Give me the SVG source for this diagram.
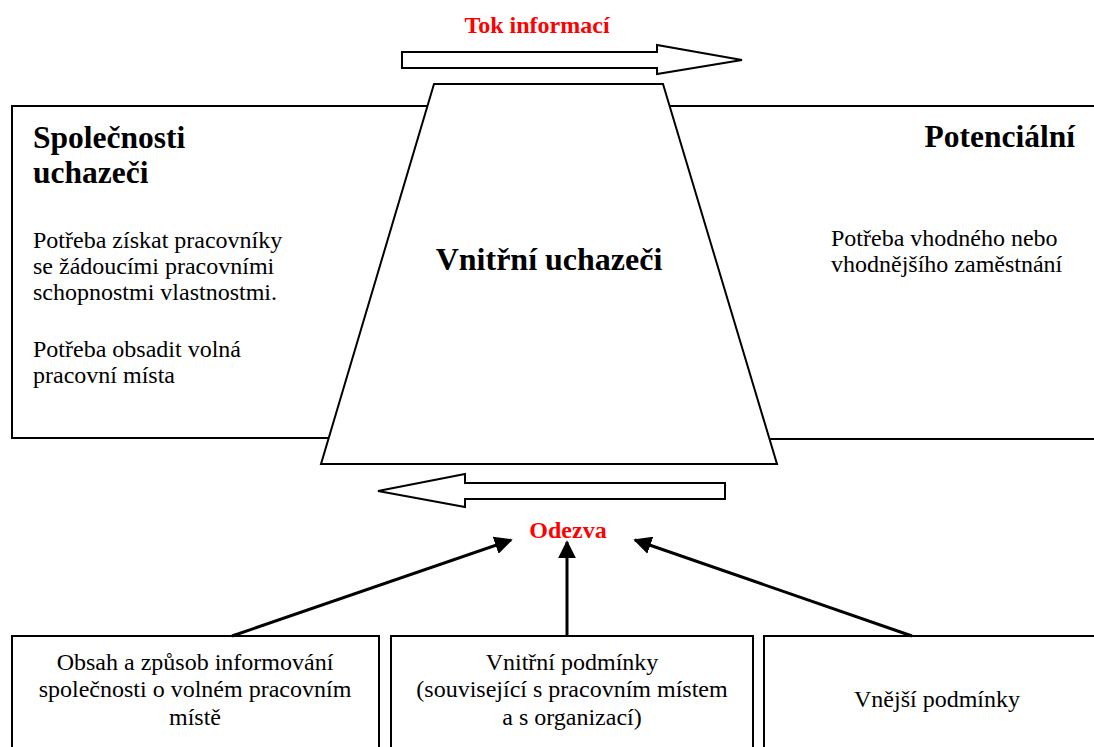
<svg xmlns="http://www.w3.org/2000/svg" width="1094" height="747" viewBox="0 0 1094 747">
  <style>
    .box { fill: #fff; stroke: #000; stroke-width: 2; }
    .block { fill: #fff; stroke: #000; stroke-width: 2; stroke-linejoin: miter; }
    .conn { fill: none; stroke: #000; stroke-width: 3; }
    .head { font-family: "Liberation Serif", "Times New Roman", serif; font-weight: bold; font-size: 31.5px; fill: #000; }
    .big { font-size: 32px; }
    .body { font-family: "Liberation Serif", "Times New Roman", serif; font-size: 24px; fill: #000; }
    .red { font-family: "Liberation Serif", "Times New Roman", serif; font-weight: bold; font-size: 24px; fill: #ff0000; }
  </style>
  <defs>
    <marker id="tip" viewBox="0 0 10 10" refX="9" refY="5" markerWidth="6" markerHeight="6" markerUnits="strokeWidth" orient="auto">
      <path d="M0,0 L10,5 L0,10 z" fill="#000"/>
    </marker>
  </defs>
  <rect width="1094" height="747" fill="#fff"/>

  <!-- left side: employer -->
  <g id="employer">
    <rect class="box" x="12" y="106" width="440" height="332"/>
    <text class="head" x="33" y="148">Společnosti</text>
    <text class="head" x="33" y="183">uchazeči</text>
    <text class="body" x="33" y="248">Potřeba získat pracovníky</text>
    <text class="body" x="33" y="274">se žádoucími pracovními</text>
    <text class="body" x="33" y="300">schopnostmi vlastnostmi.</text>
    <text class="body" x="33" y="357">Potřeba obsadit volná</text>
    <text class="body" x="33" y="383">pracovní místa</text>
  </g>

  <!-- right side: potential candidates -->
  <g id="potential">
    <rect class="box" x="650" y="106" width="460" height="333"/>
    <text class="head" x="1075" y="147" text-anchor="end">Potenciální</text>
    <text class="body" x="831" y="246">Potřeba vhodného nebo</text>
    <text class="body" x="831" y="272">vhodnějšího zaměstnání</text>
  </g>

  <!-- central trapezoid -->
  <g id="internal">
    <polygon class="box" points="434,84 663,84 777,464 321,464"/>
    <text class="head big" x="549" y="270" text-anchor="middle">Vnitřní uchazeči</text>
  </g>

  <!-- information flow -->
  <g id="info-flow">
    <polygon class="block" points="402,52 657,52 657,45 742,60 657,74 657,68 402,68"/>
    <text class="red" x="537" y="33" text-anchor="middle">Tok informací</text>
  </g>

  <!-- response -->
  <g id="response">
    <polygon class="block" points="725,483 465,483 465,474 378,491 465,507 465,499 725,499"/>
    <text class="red" x="568" y="538" text-anchor="middle">Odezva</text>
  </g>

  <!-- bottom factors -->
  <g id="factor-info">
    <rect class="box" x="12" y="636" width="367" height="130"/>
    <text class="body" x="195" y="670" text-anchor="middle">Obsah a způsob informování</text>
    <text class="body" x="195" y="697" text-anchor="middle">společnosti o volném pracovním</text>
    <text class="body" x="195" y="725" text-anchor="middle">místě</text>
  </g>
  <g id="factor-internal">
    <rect class="box" x="391" y="636" width="362" height="130"/>
    <text class="body" x="572" y="670" text-anchor="middle">Vnitřní podmínky</text>
    <text class="body" x="572" y="697" text-anchor="middle">(související s pracovním místem</text>
    <text class="body" x="572" y="725" text-anchor="middle">a s organizací)</text>
  </g>
  <g id="factor-external">
    <rect class="box" x="764" y="636" width="360" height="130"/>
    <text class="body" x="937" y="707" text-anchor="middle">Vnější podmínky</text>
  </g>

  <!-- connectors -->
  <g id="connectors">
    <line class="conn" x1="232" y1="636" x2="511" y2="540" marker-end="url(#tip)"/>
    <line class="conn" x1="567" y1="636" x2="567" y2="542" marker-end="url(#tip)"/>
    <line class="conn" x1="912" y1="636" x2="635" y2="540" marker-end="url(#tip)"/>
  </g>
</svg>
